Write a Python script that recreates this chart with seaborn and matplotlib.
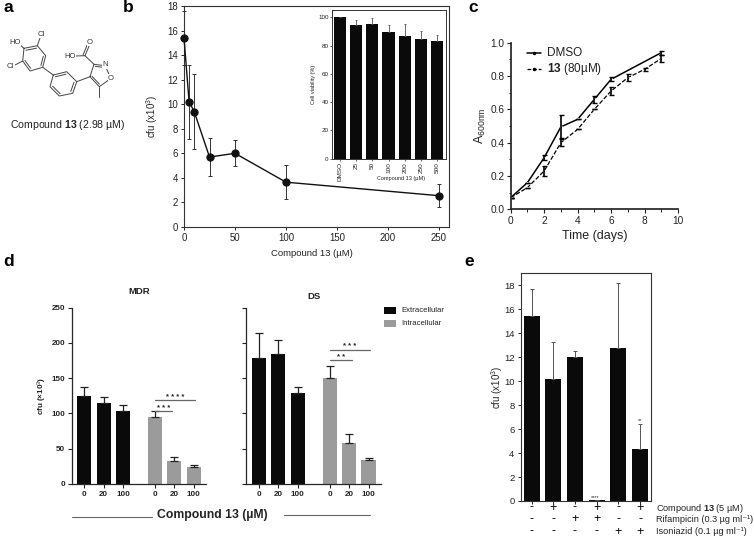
"""Multi-panel figure: compound 13 activity (panels a-e)."""
import numpy as np
import matplotlib
matplotlib.use('Agg')
import matplotlib.pyplot as plt
import seaborn as sns

W, H = 754, 537

# b - dose response
dose = [0, 5, 10, 25, 50, 100, 250]
cfu_dose = [15.4, 10.2, 9.4, 5.7, 6.0, 3.65, 2.55]
cfu_dose_err = [2.2, 3.0, 3.05, 1.55, 1.05, 1.4, 0.95]

# b inset - viability
via_labels = ['DMSO', '25', '50', '100', '200', '250', '500']
via_values = [100, 94.5, 95, 89.5, 87, 85, 83.5]
via_err = [0, 3.5, 4.5, 5, 8, 5, 4]

# c - growth
days_dmso = [0, 1, 2, 3, 4, 5, 6, 9]
a600_dmso = [0.07, 0.16, 0.31, 0.495, 0.54, 0.66, 0.78, 0.94]
a600_dmso_err = [0, 0, 0.015, 0.07, 0, 0.02, 0.012, 0.012]
days_13 = [0, 1, 2, 3, 4, 5, 6, 7, 8, 9]
a600_13 = [0.07, 0.13, 0.23, 0.40, 0.48, 0.60, 0.71, 0.79, 0.84, 0.905]
a600_13_err = [0, 0, 0.03, 0.022, 0, 0, 0.025, 0.02, 0.01, 0.02]

# d - macrophage infection
dose_d = ['0', '20', '100', '0', '20', '100']
mdr_values = [125, 115, 103.5, 95, 32, 24]
mdr_err = [12, 8.5, 8, 8, 6, 2.5]
ds_values = [179, 184, 129, 150, 58.5, 34]
ds_err = [35, 19.5, 8, 18, 13, 3]
extra_intra = ['Extracellular'] * 3 + ['Intracellular'] * 3

# e - combinations
combo_values = [15.4, 10.2, 12.0, 0.05, 12.8, 4.35]
combo_err = [2.25, 3.05, 0.5, 0, 5.4, 2.05]
combo_compound = ['-', '+', '-', '+', '-', '+']
combo_rif = ['-', '-', '+', '+', '-', '-']
combo_inh = ['-', '-', '-', '-', '+', '+']

GREY = '#9b9b9b'
TXT = '#222222'

sns.set_theme(style='ticks')
plt.rcParams['font.family'] = ['Liberation Sans', 'DejaVu Sans']
plt.rcParams['mathtext.fontset'] = 'custom'
plt.rcParams['mathtext.rm'] = 'Liberation Sans'
plt.rcParams['mathtext.bf'] = 'Liberation Sans:bold'
plt.rcParams['mathtext.it'] = 'Liberation Sans:italic'
plt.rcParams['text.color'] = TXT
plt.rcParams['axes.labelcolor'] = TXT
plt.rcParams['xtick.color'] = TXT
plt.rcParams['ytick.color'] = TXT

fig = plt.figure(figsize=(W / 100, H / 100), dpi=100)


def pix_axes(left, top, right, bottom, **kw):
    """Axes placed from pixel edges of the reference."""
    return fig.add_axes([left / W, 1 - bottom / H, (right - left) / W, (bottom - top) / H], **kw)


# overlay in pixel coordinates for panel letters, structure and free text
ov = fig.add_axes([0, 0, 1, 1], zorder=10)
ov.set_xlim(0, W)
ov.set_ylim(H, 0)
ov.axis('off')
ov.patch.set_alpha(0)

for letter, lx, ly in [('a', 3, 8), ('b', 123, 8), ('c', 468, 8), ('d', 3, 261), ('e', 464, 261)]:
    ov.text(lx, ly, letter, fontsize=12.5, fontweight='bold', color='black', va='center')

# --- a: structure sketch ---
BOND = '#444444'
ring_a = [(24, 48.3), (37.3, 45.7), (45.7, 55.7), (42.7, 67.3), (30, 71), (22.7, 61)]
ring_b = [(53.3, 75), (66.7, 71.7), (76.7, 81.7), (72.7, 93.3), (59.3, 96), (50, 86.7)]
isox = [(90, 76.7), (94, 64.3), (105, 65.7), (111, 78.3), (99.3, 86.7)]
for ring, doubles in [(ring_a, [0, 2, 4]), (ring_b, [0, 2, 4]), (isox, [1, 4])]:
    pts = np.array(ring)
    mid = pts.mean(axis=0)
    closed = np.vstack([pts, pts[:1]])
    ov.plot(closed[:, 0], closed[:, 1], color=BOND, lw=0.7)
    for k in doubles:
        # inner stroke of a double bond, pulled towards the ring centre
        p = pts[k] + (mid - pts[k]) * 0.2
        q = pts[(k + 1) % len(pts)] + (mid - pts[(k + 1) % len(pts)]) * 0.2
        ov.plot([p[0], q[0]], [p[1], q[1]], color=BOND, lw=0.7)
sticks = [
    ((24, 48.3), (19, 44)), ((37.3, 45.7), (40, 38)), ((22.7, 61), (15, 65)),
    ((42.7, 67.3), (53.3, 75)), ((76.7, 81.7), (90, 76.7)), ((99.3, 86.7), (99.3, 96.7)),
    ((94, 64.3), (85, 55.7)), ((85, 55.7), (75, 56)), ((85, 55.7), (89.5, 45)),
    ((83, 55), (87.5, 44.3)),
]
for p, q in sticks:
    ov.plot([p[0], q[0]], [p[1], q[1]], color=BOND, lw=0.7)
for s, sx, sy in [('HO', 15, 42.5), ('Cl', 41, 34.5), ('Cl', 10.7, 66.7), ('HO', 70, 56), ('O', 90, 42),
                  ('N', 105, 65), ('O', 111, 78)]:
    ov.text(sx, sy, s, fontsize=5.5, ha='center', va='center', color='#333333',
            bbox=dict(fc='white', ec='none', pad=0.3))
ov.text(10, 125, 'Compound $\\mathbf{13}$ (2.98 µM)', fontsize=7.6, va='center')

# --- b ---
ax = pix_axes(184, 6, 449, 227)
sns.lineplot(x=dose, y=cfu_dose, ax=ax, color='#111111', lw=1.0, marker='o', ms=5.2,
             mec='#111111', errorbar=None, clip_on=False, zorder=3)
ax.errorbar(dose, cfu_dose, yerr=cfu_dose_err, fmt='none', ecolor='#333333', elinewidth=0.7,
            capsize=1.5, capthick=0.7, clip_on=False)
ax.set_xlim(0, 259.8)
ax.set_ylim(0, 18)
ax.set_yticks(range(0, 19, 2))
ax.set_xticks(range(0, 251, 50))
ax.tick_params(labelsize=6.9, length=2.5, width=0.7, pad=2)
ax.set_xlabel('')
ax.set_ylabel('cfu (x10$^3$)', fontsize=7, labelpad=5)
for s in ax.spines.values():
    s.set_linewidth(0.8)
    s.set_color('#333333')
ov.text(312, 253, 'Compound 13 (µM)', fontsize=6.8, ha='center', va='center')

# inset
ins = pix_axes(332, 10, 446, 158.7)
sns.barplot(x=via_labels, y=via_values, ax=ins, color='#0a0a0a', saturation=1, width=0.74,
            errorbar=None, linewidth=0)
ins.errorbar(range(7), via_values, yerr=[np.zeros(7), via_err], fmt='none', ecolor='#555555',
             elinewidth=0.6, capsize=1, capthick=0.6)
ins.set_xlim(-0.47, 6.53)
ins.set_ylim(0, 105.2)
ins.set_yticks(range(0, 101, 20))
ins.tick_params(axis='y', labelsize=4.5, length=1.5, width=0.5, pad=1)
ins.tick_params(axis='x', labelsize=4.6, length=1.5, width=0.5, pad=1, rotation=90)
ins.set_xlabel('')
ins.set_ylabel('Cell viability (%)', fontsize=4, labelpad=1.5)
for s in ins.spines.values():
    s.set_linewidth(0.7)
    s.set_color('#333333')
ov.text(401.5, 178.5, 'Compound 13 (µM)', fontsize=4, ha='center', va='center')

# --- c ---
ax = pix_axes(510.7, 42.7, 678, 209.3)
sns.lineplot(x=days_dmso, y=a600_dmso, ax=ax, color='black', lw=1.1, errorbar=None,
             marker='o', ms=1.5)
ax.errorbar(days_dmso, a600_dmso, yerr=a600_dmso_err, fmt='none', ecolor='black',
            elinewidth=1.2, capsize=1.8, capthick=1.0)
sns.lineplot(x=days_13, y=a600_13, ax=ax, color='black', lw=0.9, ls=(0, (3.5, 1.5)), errorbar=None,
             marker='o', ms=1.5)
ax.errorbar(days_13, a600_13, yerr=a600_13_err, fmt='none', ecolor='black',
            elinewidth=1.2, capsize=1.8, capthick=1.0)
ax.set_xlim(0, 10)
ax.set_ylim(0, 1)
ax.set_xticks(range(0, 11, 2))
ax.set_xticks(range(1, 10, 2), minor=True)
ax.set_yticks(np.arange(0, 1.01, 0.2))
ax.set_yticks(np.arange(0.1, 1, 0.2), minor=True)
ax.tick_params(labelsize=7.3, length=3, width=0.8, pad=1.5)
ax.tick_params(which='minor', length=1.8, width=0.7)
ax.set_xlabel('Time (days)', fontsize=9, labelpad=3)
ax.set_ylabel('A$_{\\mathrm{600nm}}$', fontsize=9, labelpad=2)
sns.despine(ax=ax)
ov.plot([527, 541], [53, 53], color='black', lw=1.1)
ov.plot([527, 541], [68.5, 68.5], color='black', lw=0.9, ls=(0, (3, 1.5)))
ov.plot([534], [53], marker='o', ms=1.5, color='black')
ov.plot([534], [68.5], marker='o', ms=1.5, color='black')
ov.text(547, 53, 'DMSO', fontsize=8.5, va='center')
ov.text(547, 69, '$\\mathbf{13}$ (80µM)', fontsize=8.5, va='center')

# --- d ---
bar_pos = [0, 1, 2, 3.64, 4.64, 5.64]
d_palette = {'Extracellular': '#0a0a0a', 'Intracellular': GREY}
for vals, errs, left, right, title, tx, ty in [
        (mdr_values, mdr_err, 72, 206, 'MDR', 139, 292),
        (ds_values, ds_err, 246.3, 381, 'DS', 314, 296.5)]:
    ax = pix_axes(left, 307.7, right, 484)
    sns.barplot(x=bar_pos, y=vals, hue=extra_intra, palette=d_palette, ax=ax, native_scale=True,
                width=0.73, dodge=False, saturation=1, legend=False, errorbar=None, linewidth=0)
    ax.errorbar(bar_pos, vals, yerr=[np.zeros(6), errs], fmt='none', ecolor='#222222',
                elinewidth=0.9, capsize=3.2, capthick=0.9)
    ax.set_xlim(-0.637, 6.277)
    ax.set_ylim(0, 250)
    ax.set_yticks(range(0, 251, 50))
    ax.set_xticks(bar_pos)
    ax.set_xticklabels(dose_d, fontweight='bold')
    ax.tick_params(labelsize=5.8, length=3, width=0.8, pad=2)
    ov.text(tx, ty, title, fontsize=6.8, fontweight='bold', ha='center', va='center')
    sns.despine(ax=ax)
    for s in ('left', 'bottom'):
        ax.spines[s].set_linewidth(0.9)
    if title == 'MDR':
        ax.set_ylabel('cfu (×10$^3$)', fontsize=5.8, fontweight='bold', labelpad=2)
        ax.set_yticklabels(['0', '50', '100', '150', '200', '250'], fontweight='bold')
    else:
        ax.set_ylabel('')
        ax.set_yticklabels([])

# significance bars
for x0, x1, y, stars in [(155, 194.5, 400, '* * * *'), (155, 172, 410.5, '* * *'),
                         (330, 369.5, 349.5, '* * *'), (330, 352, 360, '* *')]:
    ov.plot([x0, x1], [y, y], color='#666666', lw=0.9)
    ov.text((x0 + x1) / 2, y - 2.5, stars, fontsize=5.5, ha='center', va='center',
            fontweight='bold')

ov.add_patch(plt.Rectangle((384, 307), 12, 6.5, fc='#0a0a0a', ec='none'))
ov.add_patch(plt.Rectangle((384, 320), 12, 6.5, fc=GREY, ec='none'))
ov.text(401, 310, 'Extracellular', fontsize=5.6, va='center')
ov.text(401, 323.5, 'Intracellular', fontsize=5.6, va='center')
ov.plot([72, 152], [517, 517], color='#666666', lw=0.8)
ov.plot([284, 370], [515, 515], color='#666666', lw=0.8)
ov.text(212.5, 515, 'Compound 13 (µM)', fontsize=8.8, fontweight='bold', ha='center', va='center')

# --- e ---
ax = pix_axes(520.7, 273.3, 651, 501)
sns.barplot(x=list(range(6)), y=combo_values, ax=ax, color='#0a0a0a', saturation=1, width=0.74,
            errorbar=None, linewidth=0)
ax.errorbar(range(6), combo_values, yerr=[np.zeros(6), combo_err], fmt='none', ecolor='#555555',
            elinewidth=0.7, capsize=1.5, capthick=0.7)
ax.set_xlim(-0.5, 5.5)
ax.set_ylim(0, 19)
ax.set_yticks(range(0, 19, 2))
ax.tick_params(axis='y', labelsize=6.8, length=2.5, width=0.7, pad=2)
ax.tick_params(axis='x', labelbottom=False, length=2.5, width=0.7)
ax.set_ylabel('cfu (x10$^3$)', fontsize=7, labelpad=-1)
for s in ax.spines.values():
    s.set_linewidth(0.8)
    s.set_color('#333333')

for signs, py in [(combo_compound, 507.5), (combo_rif, 519), (combo_inh, 531.5)]:
    for i, sign in enumerate(signs):
        px = 520.7 + (i + 0.5) * (651 - 520.7) / 6
        ov.text(px, py, sign, fontsize=9, ha='center', va='center', color='black')
ov.text(656.5, 508.5, 'Compound $\\mathbf{13}$ (5 µM)', fontsize=6.6, va='center')
ov.text(656.5, 520, 'Rifampicin (0.3 µg ml⁻¹)', fontsize=6.6, va='center')
ov.text(656.5, 531.5, 'Isoniazid (0.1 µg ml⁻¹)', fontsize=6.6, va='center')
ov.text(595, 497.7, '****', fontsize=4, ha='center', va='center')
ov.text(640, 420.7, '**', fontsize=4, ha='center', va='center')

fig.savefig('out.png', dpi=100)
